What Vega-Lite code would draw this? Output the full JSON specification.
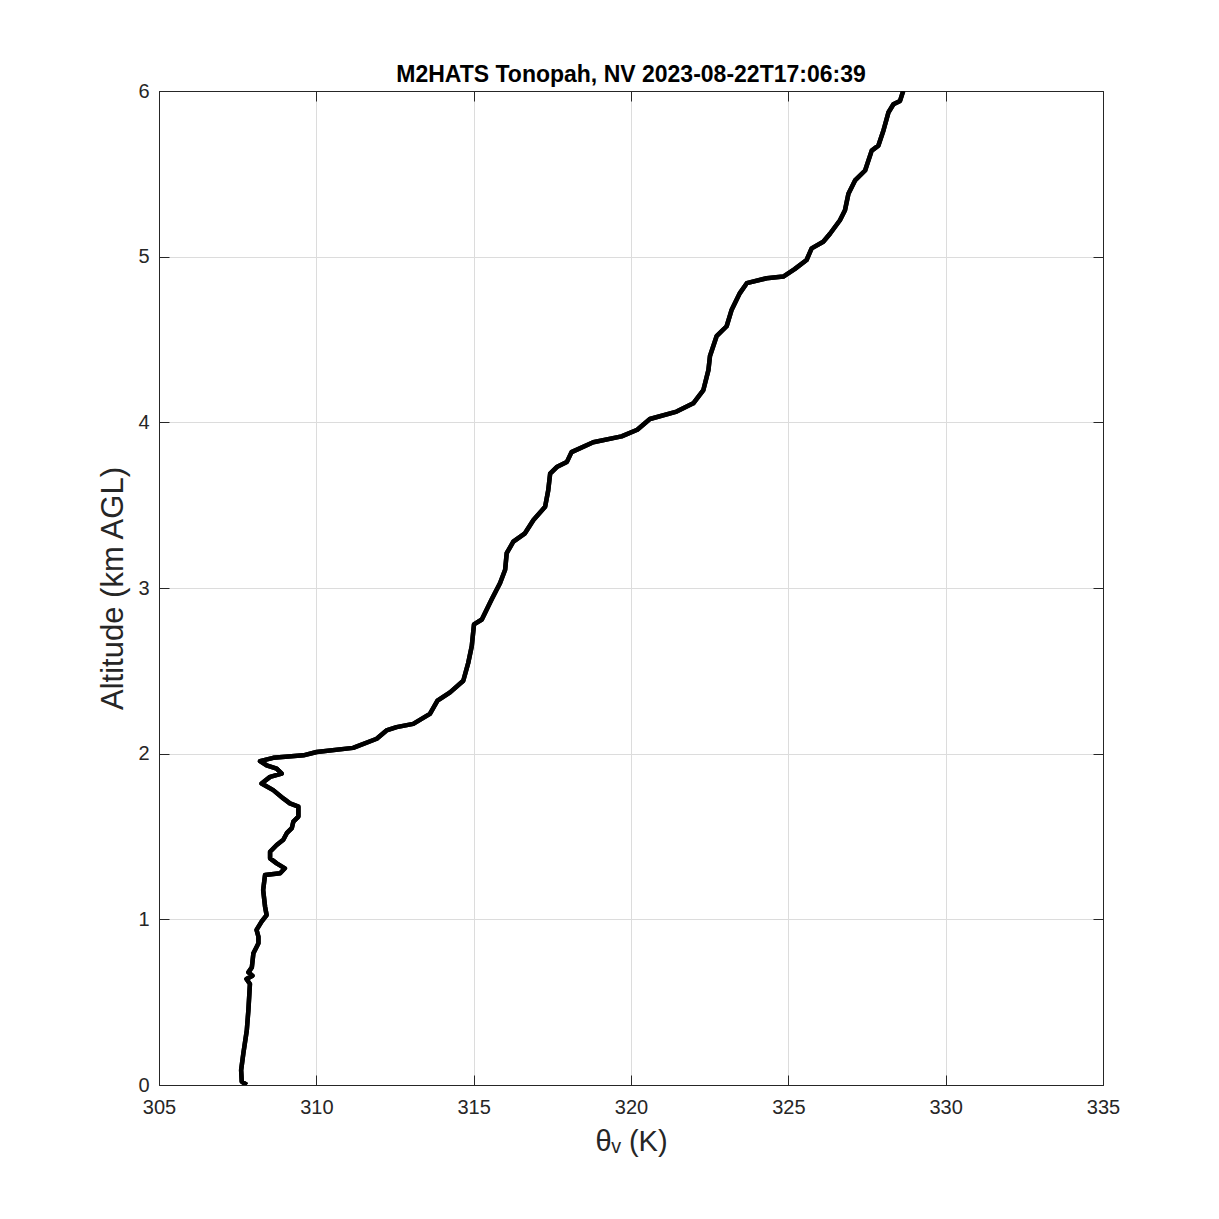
{
  "$schema": "https://vega.github.io/schema/vega-lite/v6.json",
  "autosize": {"type": "none"},
  "width": 944,
  "height": 994,
  "padding": {"left": 159, "top": 91, "right": 116, "bottom": 134},
  "background": "white",
  "title": {"text": "M2HATS Tonopah, NV 2023-08-22T17:06:39", "font": "Liberation Sans", "fontSize": 23, "fontWeight": "bold", "color": "black", "offset": -6, "anchor": "middle"},
  "config": {
    "view": {"stroke": "#262626", "strokeWidth": 1},
    "axis": {"labelFont": "Liberation Sans", "labelFontSize": 20, "labelColor": "#262626", "labelFlush": false, "titleFont": "Liberation Sans", "titleFontWeight": "normal", "titleColor": "#262626", "domainColor": "#262626", "tickColor": "#262626", "tickSize": -10, "tickWidth": 1, "gridColor": "#dcdcdc", "gridWidth": 1}
  },
  "data": {"values": [
    {"theta_v": 307.79, "alt_km": 0.0},
    {"theta_v": 307.63, "alt_km": 0.02},
    {"theta_v": 307.61, "alt_km": 0.09},
    {"theta_v": 307.68, "alt_km": 0.19},
    {"theta_v": 307.79, "alt_km": 0.33},
    {"theta_v": 307.84, "alt_km": 0.45},
    {"theta_v": 307.89, "alt_km": 0.61},
    {"theta_v": 307.78, "alt_km": 0.64},
    {"theta_v": 307.97, "alt_km": 0.66},
    {"theta_v": 307.84, "alt_km": 0.68},
    {"theta_v": 307.95, "alt_km": 0.71},
    {"theta_v": 308.0, "alt_km": 0.795},
    {"theta_v": 308.16, "alt_km": 0.855},
    {"theta_v": 308.16, "alt_km": 0.895},
    {"theta_v": 308.1, "alt_km": 0.936},
    {"theta_v": 308.26, "alt_km": 0.986},
    {"theta_v": 308.42, "alt_km": 1.026},
    {"theta_v": 308.37, "alt_km": 1.077},
    {"theta_v": 308.31, "alt_km": 1.177},
    {"theta_v": 308.37, "alt_km": 1.268},
    {"theta_v": 308.85, "alt_km": 1.278},
    {"theta_v": 309.0, "alt_km": 1.308},
    {"theta_v": 308.74, "alt_km": 1.338},
    {"theta_v": 308.53, "alt_km": 1.368},
    {"theta_v": 308.53, "alt_km": 1.408},
    {"theta_v": 308.74, "alt_km": 1.449},
    {"theta_v": 308.95, "alt_km": 1.48},
    {"theta_v": 309.06, "alt_km": 1.52},
    {"theta_v": 309.22, "alt_km": 1.55},
    {"theta_v": 309.27, "alt_km": 1.59},
    {"theta_v": 309.43, "alt_km": 1.62},
    {"theta_v": 309.43, "alt_km": 1.68},
    {"theta_v": 309.16, "alt_km": 1.7},
    {"theta_v": 308.95, "alt_km": 1.73},
    {"theta_v": 308.63, "alt_km": 1.78},
    {"theta_v": 308.26, "alt_km": 1.82},
    {"theta_v": 308.53, "alt_km": 1.86},
    {"theta_v": 308.9, "alt_km": 1.88},
    {"theta_v": 308.74, "alt_km": 1.91},
    {"theta_v": 308.42, "alt_km": 1.93},
    {"theta_v": 308.21, "alt_km": 1.955},
    {"theta_v": 308.63, "alt_km": 1.975},
    {"theta_v": 309.59, "alt_km": 1.99},
    {"theta_v": 310.01, "alt_km": 2.01},
    {"theta_v": 311.17, "alt_km": 2.035},
    {"theta_v": 311.92, "alt_km": 2.09},
    {"theta_v": 312.23, "alt_km": 2.14},
    {"theta_v": 312.55, "alt_km": 2.16},
    {"theta_v": 313.08, "alt_km": 2.18},
    {"theta_v": 313.61, "alt_km": 2.24},
    {"theta_v": 313.85, "alt_km": 2.32},
    {"theta_v": 314.25, "alt_km": 2.37},
    {"theta_v": 314.67, "alt_km": 2.44},
    {"theta_v": 314.83, "alt_km": 2.55},
    {"theta_v": 314.94, "alt_km": 2.65},
    {"theta_v": 315.01, "alt_km": 2.78},
    {"theta_v": 315.26, "alt_km": 2.81},
    {"theta_v": 315.57, "alt_km": 2.93},
    {"theta_v": 315.84, "alt_km": 3.03},
    {"theta_v": 316.0, "alt_km": 3.11},
    {"theta_v": 316.05, "alt_km": 3.21},
    {"theta_v": 316.26, "alt_km": 3.28},
    {"theta_v": 316.63, "alt_km": 3.33},
    {"theta_v": 316.9, "alt_km": 3.41},
    {"theta_v": 317.27, "alt_km": 3.49},
    {"theta_v": 317.37, "alt_km": 3.59},
    {"theta_v": 317.43, "alt_km": 3.69},
    {"theta_v": 317.64, "alt_km": 3.73},
    {"theta_v": 317.96, "alt_km": 3.76},
    {"theta_v": 318.11, "alt_km": 3.82},
    {"theta_v": 318.8, "alt_km": 3.88},
    {"theta_v": 319.7, "alt_km": 3.915},
    {"theta_v": 320.2, "alt_km": 3.955},
    {"theta_v": 320.6, "alt_km": 4.02},
    {"theta_v": 321.45, "alt_km": 4.065},
    {"theta_v": 321.98, "alt_km": 4.115},
    {"theta_v": 322.3, "alt_km": 4.195},
    {"theta_v": 322.46, "alt_km": 4.315},
    {"theta_v": 322.51, "alt_km": 4.4},
    {"theta_v": 322.72, "alt_km": 4.52},
    {"theta_v": 323.04, "alt_km": 4.58},
    {"theta_v": 323.2, "alt_km": 4.68},
    {"theta_v": 323.46, "alt_km": 4.78},
    {"theta_v": 323.68, "alt_km": 4.84},
    {"theta_v": 324.31, "alt_km": 4.87},
    {"theta_v": 324.84, "alt_km": 4.88},
    {"theta_v": 325.2, "alt_km": 4.925},
    {"theta_v": 325.58, "alt_km": 4.98},
    {"theta_v": 325.74, "alt_km": 5.05},
    {"theta_v": 326.11, "alt_km": 5.09},
    {"theta_v": 326.33, "alt_km": 5.14},
    {"theta_v": 326.64, "alt_km": 5.22},
    {"theta_v": 326.8, "alt_km": 5.28},
    {"theta_v": 326.91, "alt_km": 5.38},
    {"theta_v": 327.12, "alt_km": 5.46},
    {"theta_v": 327.44, "alt_km": 5.52},
    {"theta_v": 327.65, "alt_km": 5.64},
    {"theta_v": 327.86, "alt_km": 5.67},
    {"theta_v": 328.02, "alt_km": 5.76},
    {"theta_v": 328.18, "alt_km": 5.87},
    {"theta_v": 328.34, "alt_km": 5.92},
    {"theta_v": 328.55, "alt_km": 5.94},
    {"theta_v": 328.65, "alt_km": 6.0}
  ]},
  "layer": [
    {
      "mark": {"type": "line", "color": "black", "strokeWidth": 4.5, "strokeJoin": "round", "clip": true},
      "encoding": {
        "x": {"field": "theta_v", "type": "quantitative", "scale": {"domain": [305, 335], "nice": false, "zero": false},
              "axis": {"orient": "bottom", "values": [305, 310, 315, 320, 325, 330, 335], "title": "θᵥ (K)", "titleFontSize": 29, "titlePadding": 10, "labelPadding": 22, "grid": true}},
        "y": {"field": "alt_km", "type": "quantitative", "scale": {"domain": [0, 6], "nice": false, "zero": false},
              "axis": {"orient": "left", "values": [0, 1, 2, 3, 4, 5, 6], "title": "Altitude (km AGL)", "titleFontSize": 31, "titlePadding": 8, "labelPadding": 20, "grid": true}},
        "order": {"field": "alt_km", "type": "quantitative"}
      }
    },
    {
      "mark": {"type": "line", "color": "black", "strokeWidth": 4.5, "strokeJoin": "round", "clip": true},
      "encoding": {
        "x": {"field": "theta_v", "type": "quantitative", "scale": {"domain": [305, 335], "nice": false, "zero": false},
              "axis": {"orient": "top", "values": [305, 310, 315, 320, 325, 330, 335], "title": null, "labels": false, "grid": false}},
        "y": {"field": "alt_km", "type": "quantitative", "scale": {"domain": [0, 6], "nice": false, "zero": false},
              "axis": {"orient": "right", "values": [0, 1, 2, 3, 4, 5, 6], "title": null, "labels": false, "grid": false}},
        "order": {"field": "alt_km", "type": "quantitative"}
      }
    }
  ],
  "resolve": {"axis": {"x": "independent", "y": "independent"}}
}
